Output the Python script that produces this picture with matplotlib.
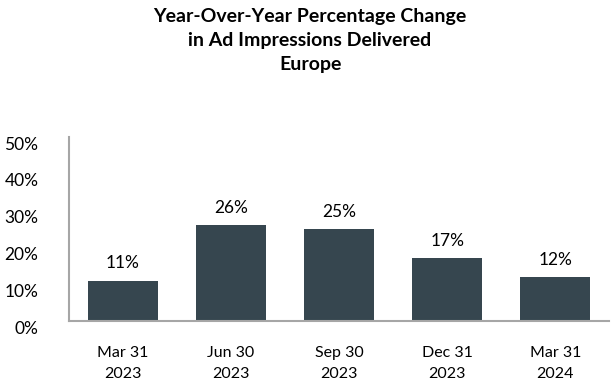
import matplotlib
matplotlib.use("Agg")
import matplotlib.pyplot as plt
import matplotlib.transforms as mtransforms

categories = ["Mar 31\n2023", "Jun 30\n2023", "Sep 30\n2023", "Dec 31\n2023", "Mar 31\n2024"]
values = [11, 26, 25, 17, 12]
yticks = [0, 10, 20, 30, 40, 50]
ytick_labels = ["0%", "10%", "20%", "30%", "40%", "50%"]
title = "Year-Over-Year Percentage Change\nin Ad Impressions Delivered\nEurope"

plt.rcParams['font.family'] = ['Lato', 'DejaVu Sans']

fig = plt.figure(figsize=(6.14, 3.84), dpi=100)
ax = fig.add_axes([0.1124, 0.164, 0.88, 0.479])

bar_color = "#36464F"
x = list(range(len(categories)))
bars = ax.bar(x, values, width=0.65, color=bar_color)
for xi, v in zip(x, values):
    ax.text(xi, v + 2.5, f"{v}%", ha="center", va="bottom", fontsize=12.5, color="#000000")

ax.set_xlim(-0.5, len(categories) - 0.5)
ax.set_ylim(0, 50)
ax.set_yticks(yticks)
ax.set_yticklabels(ytick_labels, fontsize=12.5)
ax.set_xticks(x)
ax.set_xticklabels(categories, fontsize=11.5, linespacing=1.6)
ax.tick_params(axis="both", length=0)
ax.tick_params(axis="y", pad=22)
ax.tick_params(axis="x", pad=18)

offset = mtransforms.ScaledTranslation(0, -6 / 100, fig.dpi_scale_trans)
for lab in ax.get_yticklabels():
    lab.set_transform(lab.get_transform() + offset)

for s in ["top", "right"]:
    ax.spines[s].set_visible(False)
for s in ["left", "bottom"]:
    ax.spines[s].set_color("#A6A6A6")
    ax.spines[s].set_linewidth(1.5)

fig.text(0.505, 0.98, title, ha="center", va="top", fontsize=14, fontweight="bold", linespacing=1.5)

fig.savefig("out.png", dpi=100)
